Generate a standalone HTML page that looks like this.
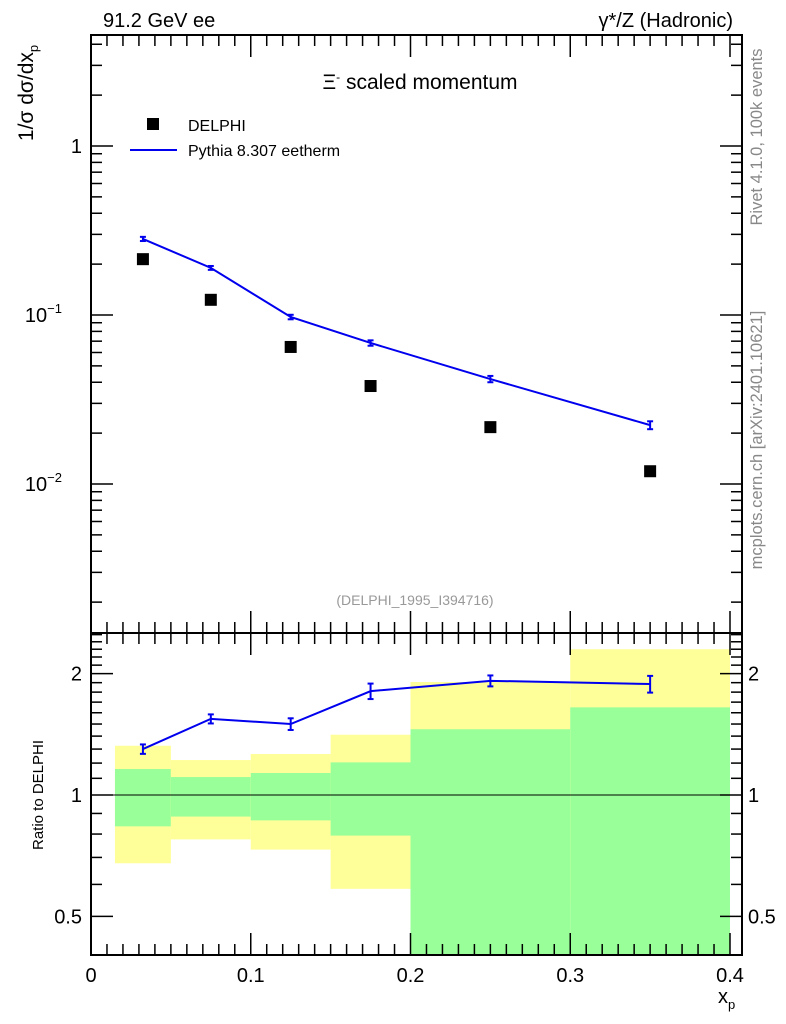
<!DOCTYPE html>
<html><head><meta charset="utf-8"><style>
html,body{margin:0;padding:0;background:#fff}
svg{display:block;font-family:"Liberation Sans",sans-serif}
</style></head><body>
<svg id="c" width="786" height="1024" viewBox="0 0 786 1024" xmlns="http://www.w3.org/2000/svg">
<g id="bands"></g>
<g id="marks"></g>
<g id="axes"></g>
<text x="103" y="27" font-size="20">91.2 GeV ee</text>
<text x="733" y="27" font-size="20" text-anchor="end">γ*/Z (Hadronic)</text>
<text x="420" y="89" font-size="21" text-anchor="middle">Ξ<tspan dy="-8" font-size="12">-</tspan><tspan dy="8"> scaled momentum</tspan></text>
<rect x="147" y="118" width="12" height="12" fill="#000"/>
<text x="188" y="131" font-size="16">DELPHI</text>
<line x1="130" y1="150" x2="177" y2="150" stroke="#0000ee" stroke-width="2"/>
<text x="188" y="156" font-size="16">Pythia 8.307 eetherm</text>
<text x="415" y="605" font-size="14" fill="#999" text-anchor="middle">(DELPHI_1995_I394716)</text>
<text transform="translate(33,93) rotate(-90)" font-size="21" text-anchor="middle">1/σ   dσ/dx<tspan dy="5" font-size="13">p</tspan></text>
<text transform="translate(43,795) rotate(-90)" font-size="15" text-anchor="middle">Ratio to DELPHI</text>
<text transform="translate(762,137) rotate(-90)" font-size="16.5" fill="#888" text-anchor="middle">Rivet 4.1.0,  100k events</text>
<text transform="translate(762,440) rotate(-90)" font-size="16.5" fill="#888" text-anchor="middle">mcplots.cern.ch [arXiv:2401.10621]</text>
<text x="718" y="1003" font-size="20">x<tspan dy="6" font-size="13">p</tspan></text>
</svg>
<script>
const xCenters=[0.0325,0.075,0.125,0.175,0.25,0.35];
const binLo=[0.015,0.05,0.1,0.15,0.2,0.3];
const binHi=[0.05,0.1,0.15,0.2,0.3,0.4];
const delphi=[0.214,0.123,0.0647,0.038,0.0217,0.0119];
const pythia=[0.282,0.19,0.0973,0.0683,0.0418,0.0223];
const pythiaErr=[0.008,0.005,0.003,0.0025,0.0018,0.0012];
const ratio=[1.30,1.545,1.50,1.81,1.92,1.885];
const ratioErr=[0.035,0.04,0.05,0.08,0.06,0.09];
const yelHi=[1.325,1.221,1.264,1.411,1.907,2.30];
const yelLo=[0.677,0.776,0.732,0.585,0.543,0.3];
const grnHi=[1.160,1.108,1.134,1.205,1.456,1.65];
const grnLo=[0.836,0.884,0.865,0.793,0.3,0.3];
const xTicks=["0","0.1","0.2","0.3","0.4"];

const NS="http://www.w3.org/2000/svg";
const L=91,R=742,T=35,MB=633,RB=955;
const X=v=>L+v*1597.5;
const Y=v=>146-169*Math.log10(v);
const RY=v=>Math.max(MB,Math.min(RB,795-403*Math.log10(v)));
function mk(p,tag,a){const e=document.createElementNS(NS,tag);for(const k in a)e.setAttribute(k,a[k]);p.appendChild(e);return e;}
const bands=document.getElementById('bands'),marks=document.getElementById('marks'),axes=document.getElementById('axes');

for(let i=0;i<binLo.length;i++){
 let r=mk(bands,'rect',{x:X(binLo[i]),width:X(binHi[i])-X(binLo[i]),y:RY(yelHi[i]),height:RY(yelLo[i])-RY(yelHi[i]),fill:'#ffff99'});
 
 
 let g=mk(bands,'rect',{x:X(binLo[i]),width:X(binHi[i])-X(binLo[i]),y:RY(grnHi[i]),height:RY(grnLo[i])-RY(grnHi[i]),fill:'#99ff99'});
 
 
}
let one=mk(marks,'line',{x1:L,x2:R,y1:RY(1),y2:RY(1),stroke:'#000','stroke-width':1});



let pts=xCenters.map((x,i)=>X(x)+','+Y(pythia[i])).join(' ');
let pl=mk(marks,'polyline',{points:pts,fill:'none',stroke:'#0000ee','stroke-width':2});


let rpts=xCenters.map((x,i)=>X(x)+','+RY(ratio[i])).join(' ');
let rl=mk(marks,'polyline',{points:rpts,fill:'none',stroke:'#0000ee','stroke-width':2});


function errbar(x,y1,y2,nm){
 const g=mk(marks,'g',{stroke:'#0000ee','stroke-width':2});
 
 
 mk(g,'line',{x1:x,x2:x,y1:y1,y2:y2});
 mk(g,'line',{x1:x-3,x2:x+3,y1:y1,y2:y1});
 mk(g,'line',{x1:x-3,x2:x+3,y1:y2,y2:y2});
}
xCenters.forEach((x,i)=>{
 errbar(X(x),Y(pythia[i]+pythiaErr[i]),Y(pythia[i]-pythiaErr[i]),'pythia-error');
 errbar(X(x),RY(ratio[i]+ratioErr[i]),RY(ratio[i]-ratioErr[i]),'ratio-error');
 let s=mk(marks,'rect',{x:X(x)-6,y:Y(delphi[i])-6,width:12,height:12,fill:'#000'});
 
 
});

let f1=mk(axes,'rect',{x:L,y:T,width:R-L,height:MB-T,fill:'none',stroke:'#000','stroke-width':2});


let f2=mk(axes,'rect',{x:L,y:MB,width:R-L,height:RB-MB,fill:'none',stroke:'#000','stroke-width':2});


const tk={stroke:'#000','stroke-width':1.5};
for(let k=0;k<=40;k++){
 const x=X(k/100),maj=k%10==0,len=maj?22:11;
 mk(axes,'line',Object.assign({x1:x,x2:x,y1:T,y2:T+len},tk));
 mk(axes,'line',Object.assign({x1:x,x2:x,y1:MB-len,y2:MB+len},tk));
 mk(axes,'line',Object.assign({x1:x,x2:x,y1:RB,y2:RB-len},tk));
}
xTicks.forEach((t,i)=>{
 const e=mk(axes,'text',{x:X(i*0.1),y:982,'font-size':20,'text-anchor':'middle'});
 e.textContent=t;
 
 
});
for(let d=-3;d<=0;d++){
 for(let m=1;m<=9;m++){
  const v=m*Math.pow(10,d),y=Y(v);
  if(y<T||y>MB)continue;
  const len=m==1?22:11;
  mk(axes,'line',Object.assign({x1:L,x2:L+len,y1:y,y2:y},tk));
  mk(axes,'line',Object.assign({x1:R,x2:R-len,y1:y,y2:y},tk));
 }
}
const lab=[[1,'1',''],[0.1,'10','−1'],[0.01,'10','−2']];
lab.forEach(l=>{
 const e=mk(axes,'text',{x:l[2]?62:82,y:Y(l[0])+7,'font-size':20,'text-anchor':'end'});
 e.textContent=l[1];
 if(l[2]){const s=mk(e,'tspan',{dy:-9,'font-size':13});s.textContent=l[2];}
 
 
});
for(let k=4;k<=25;k++){
 const v=k/10,y=795-403*Math.log10(v);
 if(y<MB||y>RB)continue;
 const maj=(k==5||k==10||k==20),len=maj?22:11;
 mk(axes,'line',Object.assign({x1:L,x2:L+len,y1:y,y2:y},tk));
 mk(axes,'line',Object.assign({x1:R,x2:R-len,y1:y,y2:y},tk));
}
[[0.5,'0.5'],[1,'1'],[2,'2']].forEach(l=>{
 const a=mk(axes,'text',{x:82,y:RY(l[0])+7,'font-size':20,'text-anchor':'end'});a.textContent=l[1];
 
 
 const b=mk(axes,'text',{x:748,y:RY(l[0])+7,'font-size':20});b.textContent=l[1];
 
 
});
</script>
</body></html>
